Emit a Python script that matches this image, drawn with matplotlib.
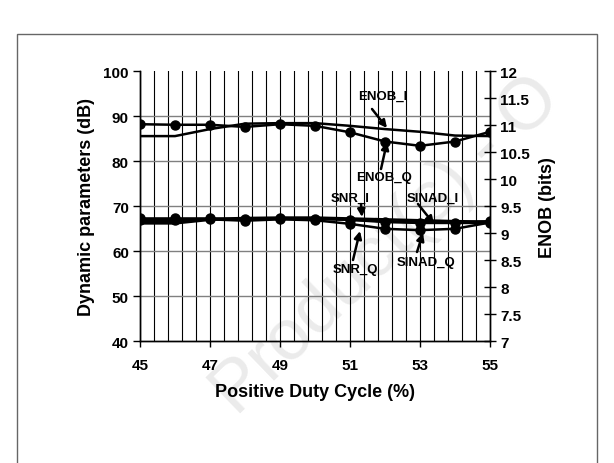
import matplotlib
matplotlib.use("Agg")
import matplotlib.pyplot as plt
from matplotlib.patches import Rectangle
import numpy as np

plt.rcParams['font.family'] = ['Liberation Sans', 'DejaVu Sans']
plt.rcParams['font.weight'] = 'bold'

duty = [45, 46, 47, 48, 49, 50, 51, 52, 53, 54, 55]
snr_q = [67.3, 67.3, 67.3, 67.1, 67.4, 67.2, 67.0, 66.5, 66.3, 66.3, 66.7]
sinad_q = [67.0, 66.9, 67.1, 66.8, 67.1, 66.9, 66.1, 65.0, 64.7, 65.0, 66.4]
snr_i = [66.5, 66.5, 67.2, 67.4, 67.5, 67.5, 67.3, 67.1, 66.9, 66.7, 66.6]
sinad_i = [66.2, 66.2, 67.0, 67.2, 67.3, 67.3, 67.0, 66.7, 66.5, 66.3, 66.3]
enob_q = [11.02, 11.01, 11.01, 10.97, 11.02, 10.99, 10.87, 10.70, 10.62, 10.70, 10.88]
enob_i = [10.80, 10.80, 10.93, 11.03, 11.04, 11.04, 10.99, 10.93, 10.88, 10.81, 10.80]

W, H = 614, 464
fig = plt.figure(figsize=(W / 100, H / 100), dpi=100)
ax = fig.add_axes([140 / W, 1 - 342.3 / H, 350 / W, 270 / H])
ax2 = ax.twinx()

# frame around figure
fig.patches.append(Rectangle((17 / W, -0.05), 580 / W, 1.05 - 35 / H,
                             transform=fig.transFigure, fill=False,
                             edgecolor='#666666', lw=1.0))

# faint watermark
fig.text(0.63, 0.47, "Product(s) - O", fontsize=52,
         color='#ebebeb', rotation=44, ha='center', va='center',
         fontweight='normal', zorder=-5)

ax.set_xlim(45, 55)
ax.set_ylim(40, 100)
ax2.set_ylim(7, 12)
ax.patch.set_alpha(0)

# grid
for gx in np.arange(45, 55.01, 0.4):
    ax.axvline(gx, color='black', lw=0.8, zorder=1)
for gy in range(50, 100, 10):
    ax.axhline(gy, color='#808080', lw=1.0, zorder=1)

lw = 1.8
ms = 6.5
ax.plot(duty, snr_i, color='black', lw=lw, zorder=3)
ax.plot(duty, sinad_i, color='black', lw=lw, zorder=3)
ax.plot(duty, snr_q, color='black', lw=lw, marker='o', ms=ms, zorder=3)
ax.plot(duty, sinad_q, color='black', lw=lw, marker='o', ms=ms, zorder=3)
ax2.plot(duty, enob_i, color='black', lw=lw, zorder=3)
ax2.plot(duty, enob_q, color='black', lw=lw, marker='o', ms=ms, zorder=3)

ax.set_xticks([45, 47, 49, 51, 53, 55])
ax.set_yticks(range(40, 101, 10))
ax2.set_yticks(np.arange(7, 12.01, 0.5))
ax2.set_yticklabels(['7', '7.5', '8', '8.5', '9', '9.5', '10', '10.5', '11', '11.5', '12'])
ax.tick_params(axis='x', direction='out', length=4, width=1, labelsize=11, pad=8)
ax.tick_params(axis='y', direction='out', length=5, width=1, labelsize=11, pad=3)
ax2.tick_params(axis='y', direction='inout', length=9, width=1, labelsize=11, pad=3)
for a in (ax, ax2):
    for s in a.spines.values():
        s.set_linewidth(1.0)
    a.spines['top'].set_visible(False)

ax.set_xlabel('Positive Duty Cycle (%)', fontsize=13, fontweight='bold', labelpad=8)
ax.set_ylabel('Dynamic parameters (dB)', fontsize=13, fontweight='bold', labelpad=6)
ax2.set_ylabel('ENOB (bits)', fontsize=13, fontweight='bold', labelpad=6)

def px2data(x, y):
    return 45 + (x - 140) / 35.0, 100 - (y - 72.3) / 4.5

ap = dict(arrowstyle='-|>', color='black', lw=1.8, mutation_scale=11,
          shrinkA=0, shrinkB=0)
annots = [
    ("ENOB_I", (383, 97), (372, 110), (387, 129)),
    ("ENOB_Q", (384, 178), (381, 170), (387, 143)),
    ("SNR_I", (350, 199), (361, 205), (362, 218)),
    ("SINAD_I", (433, 199), (418, 205), (434, 225)),
    ("SNR_Q", (355, 270), (353, 261), (360, 232)),
    ("SINAD_Q", (426, 263), (417, 253), (423, 234)),
]
for label, tpos, tail, tip in annots:
    ax.text(*px2data(*tpos), label, fontsize=9.5, fontweight='bold',
            ha='center', va='center', zorder=5)
    ax.annotate('', xy=px2data(*tip), xytext=px2data(*tail),
                arrowprops=ap, zorder=5)

fig.savefig('out.png', dpi=100)
